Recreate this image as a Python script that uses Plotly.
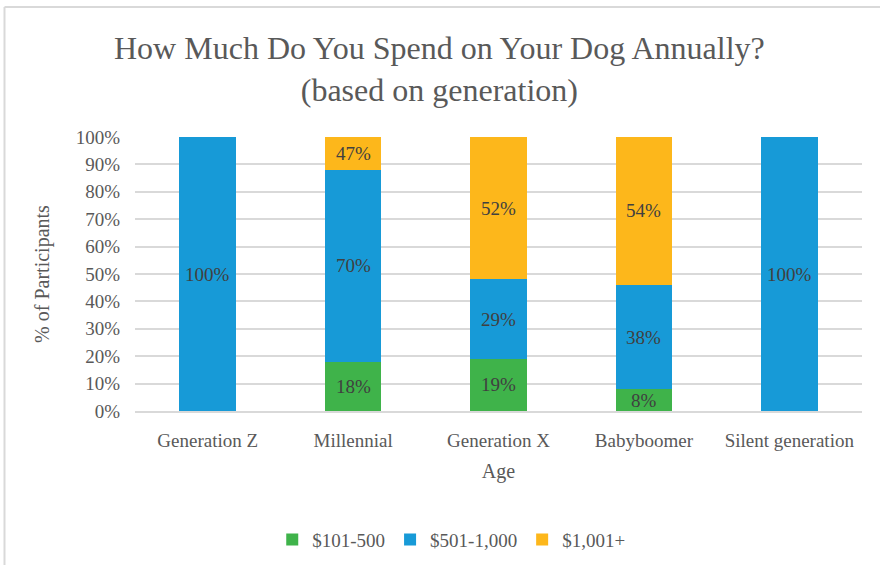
import plotly.graph_objects as go

# Survey results: share of participants per annual spend bracket, by generation
generations = ["Generation Z", "Millennial", "Generation X", "Babyboomer", "Silent generation"]
spend_101_500 = [None, 0.18, 0.19, 0.08, None]
spend_501_1000 = [1.00, 0.70, 0.29, 0.38, 1.00]
spend_1001_plus = [None, 0.47, 0.52, 0.54, None]

series_names = ["$101-500", "$501-1,000", "$1,001+"]
series_colors = ["#3FB34A", "#179AD7", "#FDB71B"]
tick_values = [0, 0.1, 0.2, 0.3, 0.4, 0.5, 0.6, 0.7, 0.8, 0.9, 1.0]
tick_labels = ["0%", "10%", "20%", "30%", "40%", "50%", "60%", "70%", "80%", "90%", "100%"]

SERIF = "Liberation Serif"
TEXT_GREY = "#595959"
LABEL_GREY = "#404040"

fig = go.Figure()
all_series = [spend_101_500, spend_501_1000, spend_1001_plus]
for name, color, values in zip(series_names, series_colors, all_series):
    fig.add_trace(go.Bar(
        x=generations, y=values, name=name,
        marker=dict(color=color, line=dict(width=0)),
        width=0.39,
    ))

# Data labels at the centre of the visible part of each segment
annotations = []
for i, gen in enumerate(generations):
    base = 0.0
    for values in all_series:
        v = values[i]
        if v is None:
            continue
        top = base + v
        mid = (base + min(top, 1.0)) / 2
        annotations.append(dict(
            x=gen, y=mid, xref="x", yref="y", text=f"{round(v * 100)}%",
            showarrow=False, font=dict(family=SERIF, size=19, color=LABEL_GREY),
        ))
        base = top

# Chart title (two lines, centred on the whole chart area)
annotations.append(dict(
    x=0.4195, y=1.248, xref="paper", yref="paper", xanchor="center", yanchor="middle",
    text="How Much Do You Spend on Your Dog Annually?<br>(based on generation)",
    showarrow=False, align="center",
    font=dict(family=SERIF, size=32, color=TEXT_GREY),
))

# Chart-area border (top and left edges)
shapes = [
    dict(type="line", xref="paper", yref="paper", x0=-0.1795, x1=1.1, y0=1.4745, y1=1.4745,
         line=dict(color="#D9D9D9", width=2)),
    dict(type="line", xref="paper", yref="paper", x0=-0.1795, x1=-0.1795, y0=-0.7, y1=1.4745,
         line=dict(color="#D9D9D9", width=2)),
]

fig.update_layout(
    width=880, height=565,
    margin=dict(l=135, r=18, t=137, b=154, autoexpand=False),
    paper_bgcolor="white", plot_bgcolor="white",
    barmode="stack",
    bargap=0.61,
    xaxis=dict(
        title=dict(text="Age", font=dict(family=SERIF, size=20, color=TEXT_GREY), standoff=14),
        tickfont=dict(family=SERIF, size=19, color=TEXT_GREY),
        showgrid=False, showline=True, linecolor="#D9D9D9", linewidth=1.5,
        ticks="", ticklen=0, ticklabelstandoff=11,
    ),
    yaxis=dict(
        title=dict(text="% of Participants", font=dict(family=SERIF, size=20, color=TEXT_GREY), standoff=20),
        range=[0, 1.0], tickvals=tick_values, ticktext=tick_labels,
        tickfont=dict(family=SERIF, size=19, color=TEXT_GREY),
        showgrid=True, gridcolor="#D9D9D9", gridwidth=1.5,
        zeroline=False, ticks="", ticklabelstandoff=14,
    ),
    legend=dict(
        orientation="h", x=0.435, xanchor="center", y=-0.4, yanchor="top",
        font=dict(family=SERIF, size=19, color=TEXT_GREY),
        itemwidth=30, traceorder="normal",
    ),
    annotations=annotations,
    shapes=shapes,
)

fig.write_html("out.html")
